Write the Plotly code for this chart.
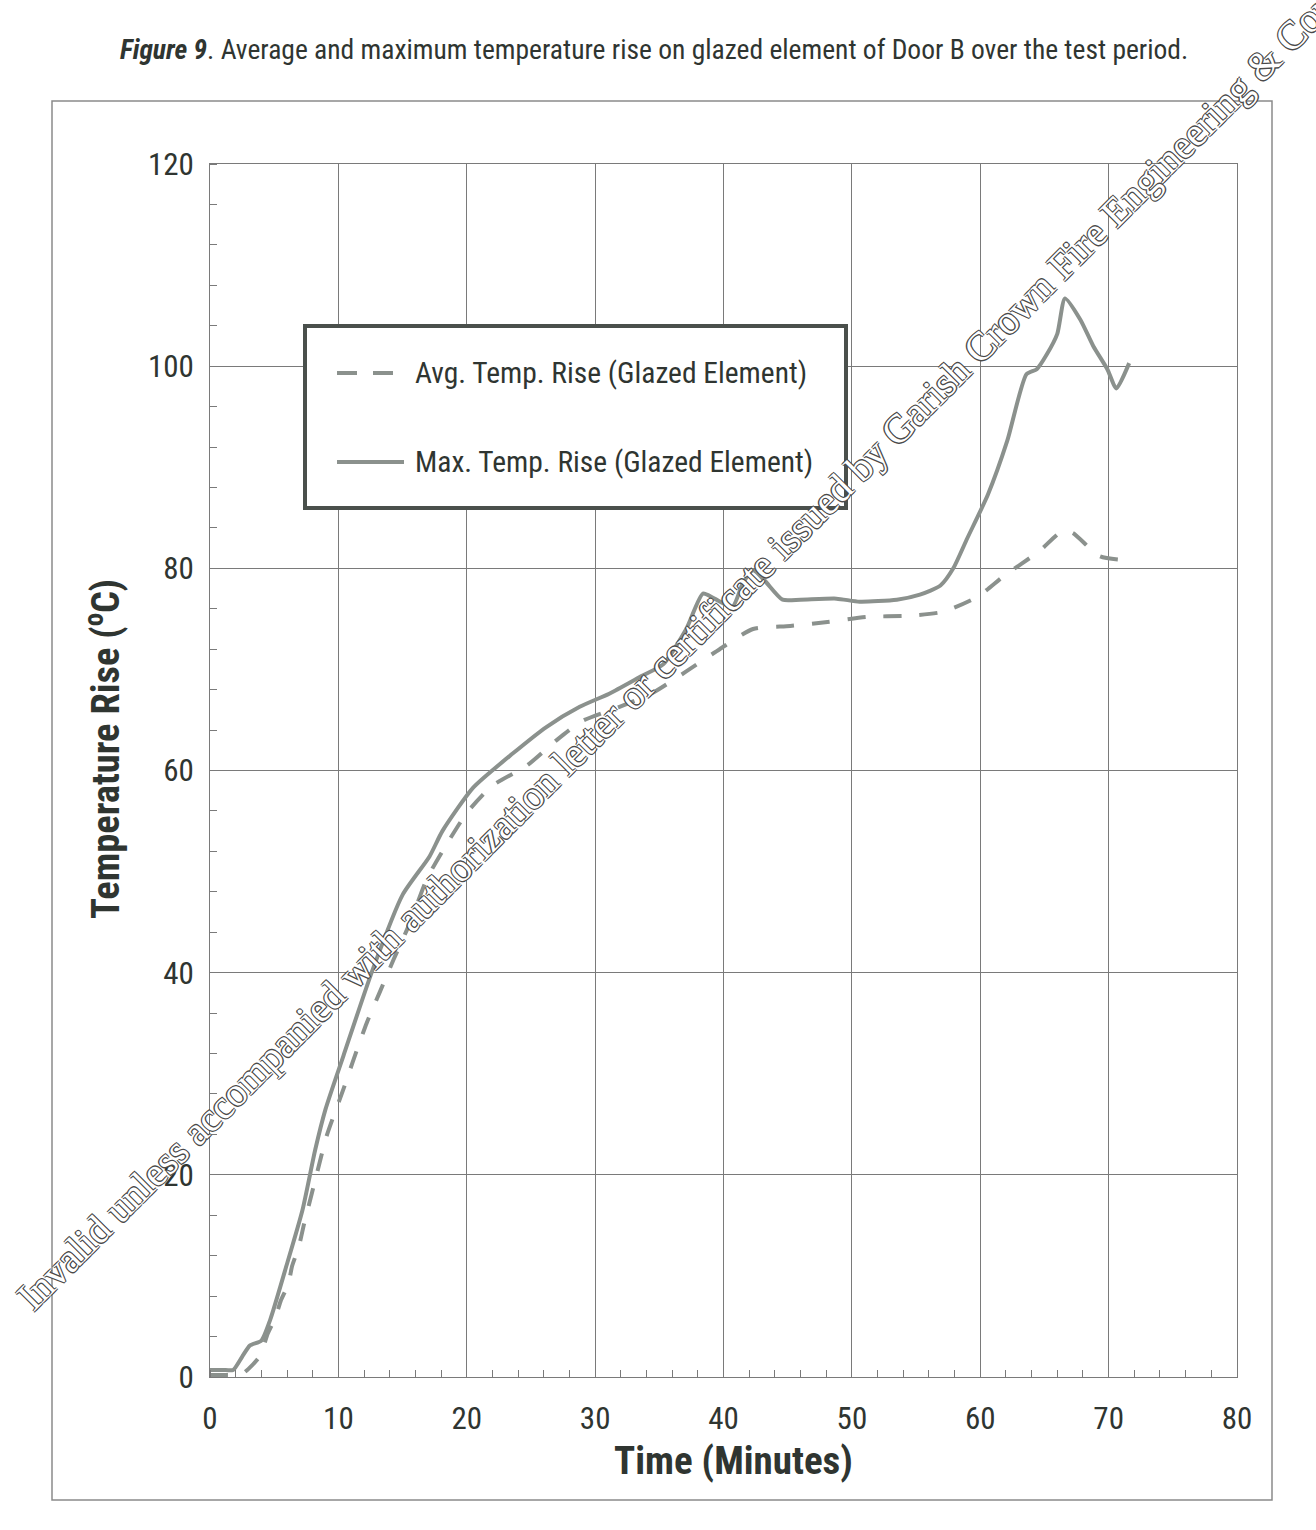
import plotly.graph_objects as go

# Time (minutes) and temperature rise (deg C) on the glazed element of Door B
time_avg = [0, 1, 2, 2.5, 3, 3.9, 4.5, 5.1, 5.5, 6.1, 6.4, 6.9, 7.3, 7.6, 8.3, 9.1,
            10.4, 11.1, 12.2, 13.2, 14.3, 15.6, 16.9, 18.1, 20, 22, 24.7, 27, 29,
            31.9, 34.5, 37.1, 39.7, 42.3, 45.2, 48.1, 51.2, 54.3, 57.1, 59.8, 61.8,
            64.6, 66.4, 67.2, 69.3, 71.4]
avg_rise = [0.2, 0.2, 0.2, 0.3, 0.8, 2.1, 4.3, 5.9, 7.5, 9.2, 11.0, 12.8, 15.0, 16.5,
            20.0, 23.9, 28.5, 31.1, 35.0, 38.0, 41.3, 45.0, 49.3, 52.0, 55.8, 58.5,
            60.5, 63.0, 64.9, 66.3, 67.7, 69.8, 72.0, 74.0, 74.3, 74.7, 75.2, 75.3,
            75.7, 77.2, 79.2, 81.7, 83.7, 83.5, 81.2, 80.8]

time_max = [0, 1, 1.8, 2.5, 3.1, 4.0, 4.7, 6.0, 7.2, 8.2, 9.0, 10.4, 12.7, 15.0, 17.1,
            18.1, 20.5, 23.6, 26.2, 28.8, 31.1, 33.7, 35.3, 37.1, 38.4, 39.3, 40.7,
            41.5, 42.3, 43.2, 44.6, 46.0, 48.8, 50.6, 53.5, 55.3, 56.9, 57.9, 59.0,
            60.6, 62.1, 63.6, 64.4, 65.2, 66.0, 66.6, 67.8, 68.8, 69.9, 70.6, 71.6]
max_rise = [0.7, 0.7, 0.7, 2.0, 3.1, 3.6, 5.7, 11.2, 16.5, 22.5, 26.5, 31.8, 40.4,
            47.7, 51.5, 54.0, 58.3, 61.7, 64.3, 66.3, 67.6, 69.4, 70.5, 74.0, 77.5,
            77.0, 76.2, 78.5, 79.8, 78.8, 76.9, 76.9, 77.0, 76.7, 76.9, 77.4, 78.3,
            80.0, 83.0, 87.3, 92.6, 99.2, 99.7, 101.2, 103.2, 106.7, 104.6, 102.0,
            99.7, 97.8, 100.3]

x_ticks = [0, 10, 20, 30, 40, 50, 60, 70, 80]
y_ticks = [0, 20, 40, 60, 80, 100, 120]

series_names = ["Avg. Temp. Rise (Glazed Element)", "Max. Temp. Rise (Glazed Element)"]

NARROW = "Liberation Sans Narrow, Arial Narrow, Roboto Condensed, sans-serif"
INK = "#2f3531"
LINE = "#8b918d"
GRID = "#7a7a7a"

W, H = 1316, 1530
L, R, T, B = 210, 79, 164, 153
PW, PH = W - L - R, H - T - B


def px(x):
    return (x - L) / PW


def py(y):
    return (H - B - y) / PH


fig = go.Figure()
fig.add_trace(go.Scatter(
    x=time_avg, y=avg_rise, mode="lines", name=series_names[0],
    line=dict(color=LINE, width=4, dash="18px,18px", shape="spline", smoothing=0.6),
))
fig.add_trace(go.Scatter(
    x=time_max, y=max_rise, mode="lines", name=series_names[1],
    line=dict(color=LINE, width=4, shape="spline", smoothing=0.6),
))

axis_common = dict(
    showline=True, mirror=True, linecolor=GRID, linewidth=1,
    showgrid=True, gridcolor=GRID, gridwidth=1, zeroline=False,
    ticks="", tickfont=dict(family=NARROW, size=31, color=INK),
)
fig.update_xaxes(range=[0, 80], tickvals=x_ticks, ticklabelstandoff=14,
                 minor=dict(dtick=2, ticks="inside", ticklen=7, tickcolor=GRID, showgrid=False),
                 **axis_common)
fig.update_yaxes(range=[0, 120], tickvals=y_ticks, ticklabelstandoff=9,
                 minor=dict(dtick=4, ticks="inside", ticklen=7, tickcolor=GRID, showgrid=False),
                 **axis_common)

shapes = [
    # outer frame around the chart
    dict(type="rect", xref="paper", yref="paper", x0=px(52), x1=px(1272), y0=py(1500), y1=py(101),
         line=dict(color="#8a8a8a", width=1.5), fillcolor="rgba(0,0,0,0)", layer="below"),
    # legend box
    dict(type="rect", xref="paper", yref="paper", x0=px(305), x1=px(846), y0=py(508), y1=py(326),
         line=dict(color="#4a504c", width=4), fillcolor="white", layer="above"),
    dict(type="line", xref="paper", yref="paper", x0=px(337), x1=px(396), y0=py(373), y1=py(373),
         line=dict(color=LINE, width=4, dash="20px,16px")),
    dict(type="line", xref="paper", yref="paper", x0=px(337), x1=px(404), y0=py(462), y1=py(462),
         line=dict(color=LINE, width=4)),
]

annotations = [
    dict(text=series_names[0], xref="paper", yref="paper", x=px(413), y=py(373),
         xanchor="left", yanchor="middle", showarrow=False,
         font=dict(family=NARROW, size=29.5, color=INK)),
    dict(text=series_names[1], xref="paper", yref="paper", x=px(413), y=py(462),
         xanchor="left", yanchor="middle", showarrow=False,
         font=dict(family=NARROW, size=29.5, color=INK)),
    dict(text="<b><i>Figure 9</i></b>. Average and maximum temperature rise on glazed element of Door B over the test period.",
         xref="paper", yref="paper", x=px(118), y=py(50), xanchor="left", yanchor="middle",
         showarrow=False, font=dict(family=NARROW, size=27.5, color=INK)),
    dict(text="<b>Time (Minutes)</b>", xref="paper", yref="paper", x=px(733), y=py(1461),
         xanchor="center", yanchor="middle", showarrow=False,
         font=dict(family=NARROW, size=39, color=INK)),
    dict(text="<b>Temperature Rise (<sup>o</sup>C)</b>", xref="paper", yref="paper", x=px(103), y=py(749),
         xanchor="center", yanchor="middle", textangle=-90, showarrow=False,
         font=dict(family=NARROW, size=38.5, color=INK)),
    # diagonal certification stamp across the page
    dict(text="Invalid unless accompanied with authorization letter or certificate issued by Garish Crown Fire Engineering & Consultancy",
         xref="paper", yref="paper", x=px(723), y=py(603), xanchor="center", yanchor="middle",
         textangle=-45, showarrow=False,
         font=dict(family="Liberation Serif, serif", size=40, color="white",
                   shadow="-1px -1px 0 #4a4a4a, 1px -1px 0 #4a4a4a, -1px 1px 0 #4a4a4a, 1px 1px 0 #4a4a4a")),
]

fig.update_layout(
    width=W, height=H, margin=dict(l=L, r=R, t=T, b=B),
    paper_bgcolor="white", plot_bgcolor="white", showlegend=False,
    shapes=shapes, annotations=annotations,
)

fig.write_html("out.html")
